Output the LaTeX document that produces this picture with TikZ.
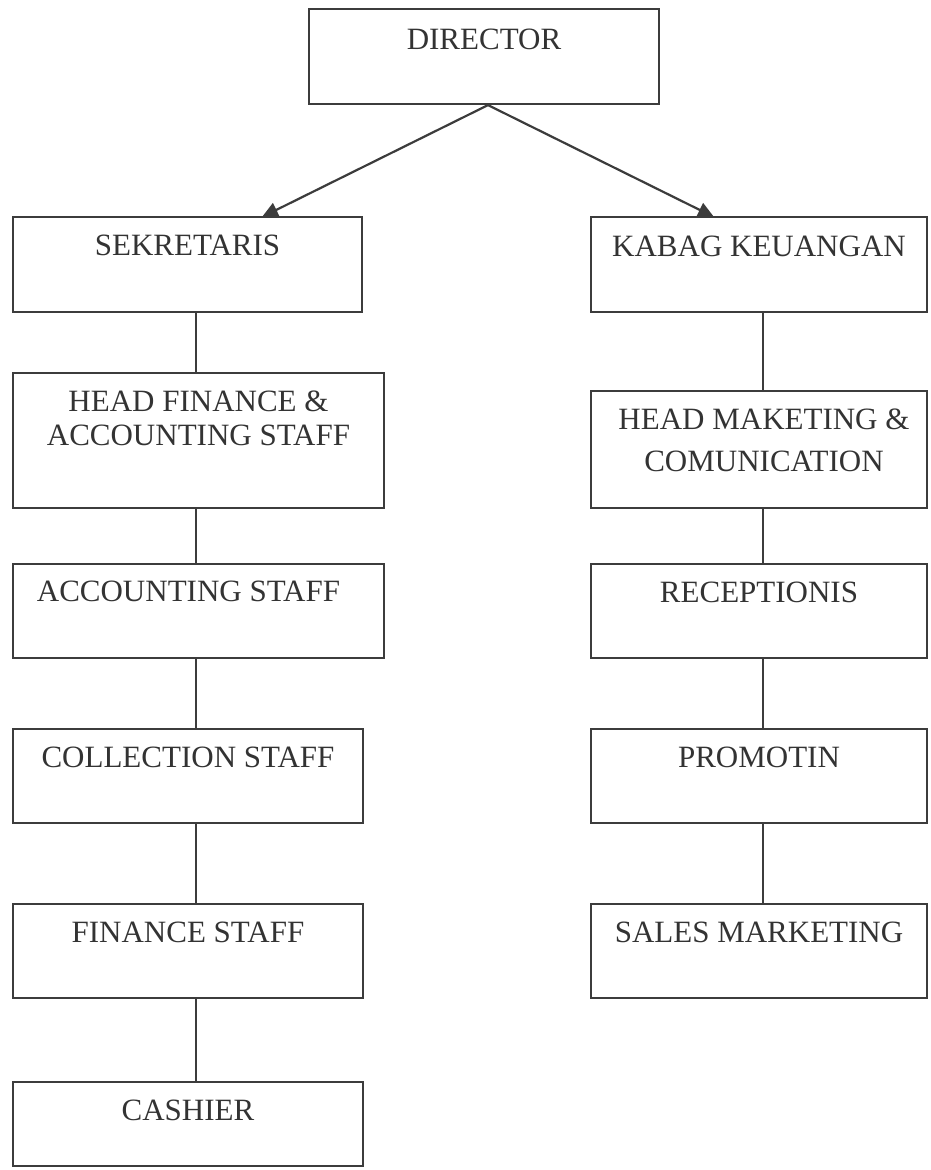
\documentclass[tikz,border=0pt]{standalone}
\usepackage{fontspec}
\setmainfont{Liberation Serif}
\usetikzlibrary{arrows.meta}
\definecolor{ln}{HTML}{3c3c3c}
\definecolor{tx}{HTML}{333333}
\tikzset{
  box/.style={draw=ln, line width=2.2pt, rectangle, inner sep=0pt},
  lbl/.style={anchor=base, inner sep=0pt, text=tx, font=\fontsize{31}{34}\selectfont},
  lbltwo/.style={anchor=north, inner sep=0pt, text=tx, align=center},
  link/.style={draw=ln, line width=2.2pt},
  arr/.style={link, -{Triangle[length=16pt,width=15pt]}}
}
\begin{document}
\begin{tikzpicture}[x=1pt,y=-1pt]
\useasboundingbox (0,0) rectangle (930,1170);
% boxes
\node[box, minimum width=350pt, minimum height=95pt] (dir) at (484,56.5) {};
\node[box, minimum width=349pt, minimum height=95pt] (sek) at (187.5,264.5) {};
\node[box, minimum width=336pt, minimum height=95pt] (kab) at (759,264.5) {};
\node[box, minimum width=371pt, minimum height=135pt] (hfa) at (198.5,440.5) {};
\node[box, minimum width=336pt, minimum height=117pt] (hmc) at (759,449.5) {};
\node[box, minimum width=371pt, minimum height=94pt] (acc) at (198.5,611) {};
\node[box, minimum width=336pt, minimum height=94pt] (rec) at (759,611) {};
\node[box, minimum width=350pt, minimum height=94pt] (col) at (188,776) {};
\node[box, minimum width=336pt, minimum height=94pt] (pro) at (759,776) {};
\node[box, minimum width=350pt, minimum height=94pt] (fin) at (188,951) {};
\node[box, minimum width=336pt, minimum height=94pt] (sal) at (759,951) {};
\node[box, minimum width=350pt, minimum height=84pt] (cas) at (188,1124) {};
% labels
\node[lbl] (dirt) at ([yshift=-42pt]dir.north) {DIRECTOR};
\node[lbl] (sekt) at ([yshift=-40pt]sek.north) {SEKRETARIS};
\node[lbl] (kabt) at ([yshift=-41pt]kab.north) {KABAG KEUANGAN};
\node[lbltwo, font=\fontsize{31}{34}\selectfont] (hfat) at ([yshift=-19pt]hfa.north) {HEAD FINANCE \&\\ACCOUNTING STAFF};
\node[lbltwo, font=\fontsize{31}{42}\selectfont] (hmct) at ([xshift=5pt,yshift=-19pt]hmc.north) {HEAD MAKETING \&\\COMUNICATION};
\node[lbl] (acct) at ([xshift=-10pt,yshift=-39pt]acc.north) {ACCOUNTING STAFF};
\node[lbl] (rect) at ([yshift=-40pt]rec.north) {RECEPTIONIS};
\node[lbl] (colt) at ([yshift=-40pt]col.north) {COLLECTION STAFF};
\node[lbl] (prot) at ([yshift=-40pt]pro.north) {PROMOTIN};
\node[lbl] (fint) at ([yshift=-40pt]fin.north) {FINANCE STAFF};
\node[lbl] (salt) at ([yshift=-40pt]sal.north) {SALES MARKETING};
\node[lbl] (cast) at ([yshift=-40pt]cas.north) {CASHIER};
% connectors
\coordinate (c1) at (196,0);
\coordinate (c2) at (763,0);
\coordinate (t1) at (262,217);
\coordinate (t2) at (714,217);
\draw[arr] ([xshift=4pt]dir.south) -- (t1);
\draw[arr] ([xshift=4pt]dir.south) -- (t2);
\draw[link] (sek.south -| c1) -- (hfa.north -| c1);
\draw[link] (hfa.south -| c1) -- (acc.north -| c1);
\draw[link] (acc.south -| c1) -- (col.north -| c1);
\draw[link] (col.south -| c1) -- (fin.north -| c1);
\draw[link] (fin.south -| c1) -- (cas.north -| c1);
\draw[link] (kab.south -| c2) -- (hmc.north -| c2);
\draw[link] (hmc.south -| c2) -- (rec.north -| c2);
\draw[link] (rec.south -| c2) -- (pro.north -| c2);
\draw[link] (pro.south -| c2) -- (sal.north -| c2);
\end{tikzpicture}
\end{document}
